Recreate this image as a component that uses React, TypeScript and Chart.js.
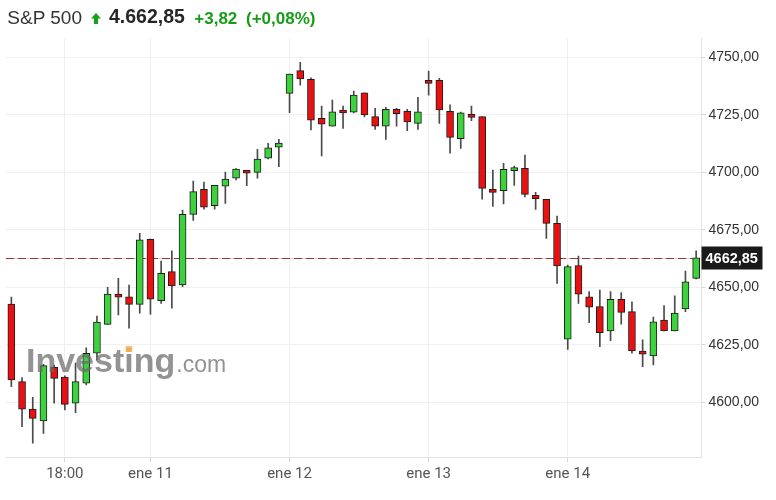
import React, { useEffect, useRef } from 'react';
import { Chart, registerables } from 'chart.js';

Chart.register(...registerables);

// ---- data ----
const sessionDays = ['ene 10', 'ene 11', 'ene 12', 'ene 13', 'ene 14'];
const sessionTimes = ['15:30', '16:00', '16:30', '17:00', '17:30', '18:00', '18:30', '19:00', '19:30', '20:00', '20:30', '21:00', '21:30'];

const openValues = [
  4642.7, 4609.0, 4597.0, 4591.9, 4615.2, 4611.0, 4599.6, 4608.3, 4621.3, 4633.9, 4647.0, 4645.9, 4642.6,
  4670.9, 4644.2, 4656.8, 4651.0, 4681.7, 4692.6, 4685.5, 4694.0, 4697.4, 4700.9, 4700.0, 4706.1, 4710.9,
  4734.3, 4744.2, 4740.4, 4723.5, 4720.1, 4727.1, 4726.2, 4734.6, 4724.2, 4720.1, 4727.4, 4726.5, 4721.3,
  4740.0, 4740.0, 4726.5, 4714.6, 4725.2, 4724.2, 4692.4, 4692.0, 4700.7, 4701.7, 4690.0, 4688.3, 4677.8,
  4627.4, 4659.4, 4645.9, 4641.6, 4631.0, 4644.8, 4639.4, 4622.0, 4620.1, 4635.7, 4631.0, 4640.6, 4653.9,
];
const highValues = [
  4645.7, 4610.7, 4602.2, 4616.5, 4616.2, 4611.5, 4617.0, 4623.7, 4637.5, 4650.0, 4653.9, 4651.0, 4673.5,
  4671.0, 4661.4, 4665.8, 4683.6, 4696.2, 4695.7, 4694.3, 4700.1, 4701.6, 4700.9, 4710.0, 4712.6, 4714.3,
  4742.7, 4747.8, 4741.1, 4728.8, 4731.4, 4728.8, 4735.3, 4734.6, 4727.8, 4728.3, 4727.8, 4727.4, 4732.6,
  4744.0, 4740.9, 4729.3, 4726.2, 4728.8, 4724.2, 4701.0, 4703.9, 4702.7, 4707.5, 4691.3, 4688.3, 4681.0,
  4659.7, 4663.6, 4648.1, 4648.8, 4648.1, 4647.7, 4643.7, 4627.1, 4637.0, 4642.0, 4646.3, 4657.1, 4665.8,
];
const lowValues = [
  4606.8, 4589.4, 4582.2, 4586.5, 4599.6, 4596.7, 4595.5, 4607.5, 4618.4, 4633.9, 4638.0, 4632.2, 4638.7,
  4638.3, 4643.0, 4640.9, 4650.3, 4679.1, 4684.0, 4684.0, 4686.5, 4696.7, 4694.2, 4697.4, 4705.8, 4702.4,
  4725.9, 4737.9, 4718.4, 4707.1, 4720.1, 4719.1, 4725.8, 4724.1, 4718.7, 4714.3, 4720.1, 4718.1, 4718.7,
  4733.5, 4721.3, 4708.3, 4710.4, 4722.4, 4688.3, 4685.2, 4686.2, 4694.3, 4689.3, 4683.9, 4671.3, 4651.7,
  4623.0, 4643.0, 4634.6, 4624.2, 4626.8, 4634.0, 4621.3, 4615.5, 4616.2, 4631.0, 4631.0, 4639.4, 4653.6,
];
const closeValues = [
  4609.7, 4597.0, 4593.0, 4615.9, 4610.4, 4599.1, 4609.0, 4621.3, 4634.9, 4647.0, 4645.7, 4642.6, 4670.6,
  4644.8, 4656.1, 4650.6, 4681.7, 4691.6, 4684.8, 4694.3, 4697.1, 4701.4, 4699.6, 4705.8, 4710.6, 4712.7,
  4742.7, 4740.6, 4722.7, 4720.9, 4726.3, 4725.8, 4733.6, 4725.0, 4720.1, 4727.4, 4725.5, 4721.9, 4726.3,
  4738.7, 4727.1, 4715.2, 4725.9, 4723.9, 4693.0, 4691.3, 4701.3, 4702.0, 4690.4, 4688.5, 4677.8, 4659.3,
  4659.0, 4647.0, 4641.3, 4630.3, 4644.8, 4639.1, 4622.3, 4620.9, 4635.0, 4631.0, 4638.8, 4652.4, 4662.85,
];

const xTickLabels = ['18:00', 'ene 11', 'ene 12', 'ene 13', 'ene 14'];
const xTickCandles = [5, 13, 26, 39, 52];
const yTicks = [4600, 4625, 4650, 4675, 4700, 4725, 4750];
const yMin = 4576.2;
const yMax = 4758.4;
const lastPrice = 4662.85;

const GREEN = '#3dd13d';
const RED = '#e81010';
const fmt = (v: number) => v.toFixed(2).replace('.', ',');

const overlayPlugin = {
  id: 'overlay',
  beforeDatasetsDraw(chart: any) {
    const { ctx, chartArea, scales } = chart;
    const y = Math.round(scales.y.getPixelForValue(lastPrice)) + 0.5;
    ctx.save();
    ctx.strokeStyle = '#f3c9c9';
    ctx.lineWidth = 1;
    ctx.beginPath();
    ctx.moveTo(chartArea.left, y);
    ctx.lineTo(chartArea.right, y);
    ctx.stroke();
    ctx.strokeStyle = '#8a3b3b';
    ctx.setLineDash([8, 4]);
    ctx.beginPath();
    ctx.moveTo(chartArea.left, y);
    ctx.lineTo(chartArea.right, y);
    ctx.stroke();
    ctx.restore();
  },
  afterDatasetsDraw(chart: any) {
    const { ctx } = chart;
    ctx.save();
    ctx.textBaseline = 'alphabetic';
    ctx.fillStyle = 'rgba(105,105,105,0.72)';
    ctx.font = 'bold 34px "Liberation Sans", Arial, sans-serif';
    const x0 = 26;
    const base = 372;
    ctx.fillText('Investing', x0, base);
    const w = ctx.measureText('Investing').width;
    const xi = x0 + ctx.measureText('Invest').width;
    const iw = ctx.measureText('i').width;
    ctx.font = '23px "Liberation Sans", Arial, sans-serif';
    ctx.fillText('.com', x0 + w + 1, base);
    ctx.fillStyle = 'rgba(250,175,80,0.85)';
    ctx.fillRect(xi + iw * 0.15, 346, iw * 0.7, 6);
    ctx.restore();
  },
  afterDraw(chart: any) {
    const { ctx, chartArea, scales } = chart;
    const y = scales.y.getPixelForValue(lastPrice);
    ctx.save();
    ctx.fillStyle = '#1a1a1a';
    ctx.fillRect(chartArea.right, Math.round(y) - 11.5, 61, 23);
    ctx.fillStyle = '#ffffff';
    ctx.font = 'bold 14.5px "Liberation Sans", Arial, sans-serif';
    ctx.textBaseline = 'middle';
    ctx.textAlign = 'left';
    ctx.fillText(fmt(lastPrice), chartArea.right + 4, Math.round(y) + 0.5);
    ctx.restore();
  },
};

export default function App() {
  const ref = useRef<HTMLCanvasElement>(null);

  useEffect(() => {
    const labels = sessionDays.flatMap((d) => sessionTimes.map((t) => `${d} ${t}`));
    const bodyColors = openValues.map((o, i) => (closeValues[i] >= o ? GREEN : RED));
    const chart = new Chart(ref.current as HTMLCanvasElement, {
      type: 'bar',
      data: {
        labels,
        datasets: [
          {
            label: 'body',
            data: openValues.map((o, i) => [o, closeValues[i]]) as any,
            backgroundColor: bodyColors,
            borderColor: '#1e1e1e',
            borderWidth: 1,
            borderSkipped: false,
            barThickness: 7,
            minBarLength: 3,
            grouped: false,
          } as any,
          {
            label: 'wick',
            data: lowValues.map((l, i) => [l, highValues[i]]) as any,
            backgroundColor: '#4a4a4a',
            borderWidth: 0,
            barThickness: 1,
            grouped: false,
          } as any,
        ],
      },
      options: {
        responsive: false,
        animation: false,
        maintainAspectRatio: false,
        layout: { padding: { left: 6, top: 38, right: 0, bottom: 0 } },
        plugins: { legend: { display: false }, tooltip: { enabled: false } },
        scales: {
          x: {
            type: 'category',
            offset: true,
            grid: { offset: false, color: '#efefef', tickLength: 5, tickColor: '#d6d6d6' },
            border: { color: '#e2e2e2' },
            ticks: {
              autoSkip: false,
              maxRotation: 0,
              minRotation: 0,
              padding: 3,
              color: '#555',
              font: { family: 'Roboto, sans-serif', size: 15 },
              callback: (_v: any, i: number) => {
                const k = xTickCandles.indexOf(i);
                return k >= 0 ? xTickLabels[k] : null;
              },
            },
            afterFit: (s: any) => {
              s.height = 43;
            },
          } as any,
          y: {
            position: 'right',
            min: yMin,
            max: yMax,
            grid: { color: '#f0f0f0', tickLength: 4, tickColor: '#d6d6d6' },
            border: { color: '#e2e2e2' },
            afterBuildTicks: (s: any) => {
              s.ticks = yTicks.map((v) => ({ value: v }));
            },
            ticks: {
              padding: 3,
              color: '#333',
              font: { family: '"Liberation Sans", Arial, sans-serif', size: 14 },
              callback: (v: any) => fmt(Number(v)),
            },
            afterFit: (s: any) => {
              s.width = 74.5;
            },
          } as any,
        },
      },
      plugins: [overlayPlugin],
    });
    return () => chart.destroy();
  }, []);

  const font = '"Liberation Sans", Arial, sans-serif';
  const span = (left: number, fs: number, bold: boolean, color: string, text: string) => (
    <span
      style={{
        position: 'absolute',
        left,
        top: 24 - 0.8465 * fs,
        fontSize: fs,
        lineHeight: `${fs}px`,
        fontWeight: bold ? 'bold' : 'normal',
        color,
        fontFamily: font,
        whiteSpace: 'nowrap',
      }}
    >
      {text}
    </span>
  );

  return (
    <div style={{ position: 'fixed', left: 0, top: 0, width: 776, height: 500, background: '#fff', overflow: 'hidden' }}>
      <canvas ref={ref} width={776} height={500} style={{ position: 'absolute', left: 0, top: 0, width: 776, height: 500 }} />
      {span(7.3, 19, false, '#333', 'S&P 500')}
      <svg style={{ position: 'absolute', left: 90.5, top: 12.5 }} width={10} height={11} viewBox="0 0 10 11">
        <path d="M5 0 L10 5.5 L7 5.5 L7 11 L3 11 L3 5.5 L0 5.5 Z" fill="#12a312" />
      </svg>
      {span(109, 19.5, true, '#262626', '4.662,85')}
      {span(194.3, 17, true, '#179c17', '+3,82')}
      {span(246, 17, true, '#179c17', '(+0,08%)')}
    </div>
  );
}
